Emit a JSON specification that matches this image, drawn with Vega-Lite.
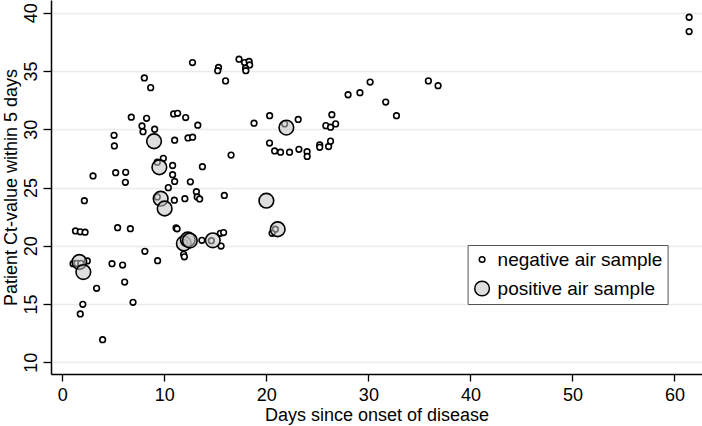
{
  "$schema": "https://vega.github.io/schema/vega-lite/v6.json",
  "width": 651,
  "height": 374,
  "autosize": {"type": "none"},
  "padding": {"left": 51, "top": 0, "right": 0, "bottom": 52},
  "background": "white",
  "config": {"view": {"stroke": null}, "font": "Liberation Sans"},
  "data": {"values": [
    {"days": 2.16, "ct": 23.87, "sample": "negative air sample"},
    {"days": 3.01, "ct": 25.99, "sample": "negative air sample"},
    {"days": 5.07, "ct": 29.48, "sample": "negative air sample"},
    {"days": 5.10, "ct": 28.57, "sample": "negative air sample"},
    {"days": 5.23, "ct": 26.27, "sample": "negative air sample"},
    {"days": 6.21, "ct": 26.31, "sample": "negative air sample"},
    {"days": 6.18, "ct": 25.45, "sample": "negative air sample"},
    {"days": 6.76, "ct": 31.03, "sample": "negative air sample"},
    {"days": 8.04, "ct": 34.40, "sample": "negative air sample"},
    {"days": 8.66, "ct": 33.57, "sample": "negative air sample"},
    {"days": 7.81, "ct": 30.28, "sample": "negative air sample"},
    {"days": 7.91, "ct": 29.79, "sample": "negative air sample"},
    {"days": 8.26, "ct": 30.94, "sample": "negative air sample"},
    {"days": 9.05, "ct": 30.00, "sample": "negative air sample"},
    {"days": 9.31, "ct": 27.17, "sample": "negative air sample"},
    {"days": 9.90, "ct": 27.51, "sample": "negative air sample"},
    {"days": 10.81, "ct": 26.89, "sample": "negative air sample"},
    {"days": 10.81, "ct": 26.10, "sample": "negative air sample"},
    {"days": 11.01, "ct": 25.52, "sample": "negative air sample"},
    {"days": 10.39, "ct": 24.99, "sample": "negative air sample"},
    {"days": 10.98, "ct": 23.91, "sample": "negative air sample"},
    {"days": 12.01, "ct": 24.04, "sample": "negative air sample"},
    {"days": 11.01, "ct": 29.06, "sample": "negative air sample"},
    {"days": 10.91, "ct": 31.31, "sample": "negative air sample"},
    {"days": 11.30, "ct": 31.37, "sample": "negative air sample"},
    {"days": 12.09, "ct": 31.00, "sample": "negative air sample"},
    {"days": 12.32, "ct": 29.25, "sample": "negative air sample"},
    {"days": 12.77, "ct": 29.32, "sample": "negative air sample"},
    {"days": 12.76, "ct": 35.72, "sample": "negative air sample"},
    {"days": 13.28, "ct": 30.35, "sample": "negative air sample"},
    {"days": 13.73, "ct": 26.79, "sample": "negative air sample"},
    {"days": 12.55, "ct": 25.49, "sample": "negative air sample"},
    {"days": 13.14, "ct": 24.64, "sample": "negative air sample"},
    {"days": 13.22, "ct": 24.19, "sample": "negative air sample"},
    {"days": 13.46, "ct": 24.02, "sample": "negative air sample"},
    {"days": 15.31, "ct": 35.30, "sample": "negative air sample"},
    {"days": 15.23, "ct": 35.02, "sample": "negative air sample"},
    {"days": 16.00, "ct": 34.15, "sample": "negative air sample"},
    {"days": 16.54, "ct": 27.78, "sample": "negative air sample"},
    {"days": 15.88, "ct": 24.32, "sample": "negative air sample"},
    {"days": 17.32, "ct": 36.01, "sample": "negative air sample"},
    {"days": 17.86, "ct": 35.72, "sample": "negative air sample"},
    {"days": 18.31, "ct": 35.82, "sample": "negative air sample"},
    {"days": 18.36, "ct": 35.52, "sample": "negative air sample"},
    {"days": 17.96, "ct": 35.24, "sample": "negative air sample"},
    {"days": 17.99, "ct": 35.02, "sample": "negative air sample"},
    {"days": 18.79, "ct": 30.52, "sample": "negative air sample"},
    {"days": 20.32, "ct": 31.16, "sample": "negative air sample"},
    {"days": 21.79, "ct": 30.46, "sample": "negative air sample"},
    {"days": 23.12, "ct": 30.84, "sample": "negative air sample"},
    {"days": 20.31, "ct": 28.82, "sample": "negative air sample"},
    {"days": 20.81, "ct": 28.14, "sample": "negative air sample"},
    {"days": 21.39, "ct": 28.03, "sample": "negative air sample"},
    {"days": 22.27, "ct": 28.03, "sample": "negative air sample"},
    {"days": 23.19, "ct": 28.28, "sample": "negative air sample"},
    {"days": 23.99, "ct": 28.07, "sample": "negative air sample"},
    {"days": 24.00, "ct": 27.67, "sample": "negative air sample"},
    {"days": 25.23, "ct": 28.65, "sample": "negative air sample"},
    {"days": 25.23, "ct": 28.45, "sample": "negative air sample"},
    {"days": 26.10, "ct": 28.52, "sample": "negative air sample"},
    {"days": 26.29, "ct": 28.98, "sample": "negative air sample"},
    {"days": 25.83, "ct": 30.31, "sample": "negative air sample"},
    {"days": 26.29, "ct": 30.18, "sample": "negative air sample"},
    {"days": 26.79, "ct": 30.46, "sample": "negative air sample"},
    {"days": 26.42, "ct": 31.25, "sample": "negative air sample"},
    {"days": 28.01, "ct": 32.96, "sample": "negative air sample"},
    {"days": 29.17, "ct": 33.14, "sample": "negative air sample"},
    {"days": 30.17, "ct": 34.05, "sample": "negative air sample"},
    {"days": 31.70, "ct": 32.33, "sample": "negative air sample"},
    {"days": 32.75, "ct": 31.16, "sample": "negative air sample"},
    {"days": 35.88, "ct": 34.15, "sample": "negative air sample"},
    {"days": 36.83, "ct": 33.74, "sample": "negative air sample"},
    {"days": 61.44, "ct": 39.61, "sample": "negative air sample"},
    {"days": 61.44, "ct": 38.38, "sample": "negative air sample"},
    {"days": 1.29, "ct": 21.27, "sample": "negative air sample"},
    {"days": 1.76, "ct": 21.20, "sample": "negative air sample"},
    {"days": 2.23, "ct": 21.17, "sample": "negative air sample"},
    {"days": 5.42, "ct": 21.55, "sample": "negative air sample"},
    {"days": 6.67, "ct": 21.47, "sample": "negative air sample"},
    {"days": 1.05, "ct": 18.46, "sample": "negative air sample"},
    {"days": 2.45, "ct": 18.70, "sample": "negative air sample"},
    {"days": 1.42, "ct": 18.50, "sample": "negative air sample"},
    {"days": 1.81, "ct": 18.50, "sample": "negative air sample"},
    {"days": 4.87, "ct": 18.46, "sample": "negative air sample"},
    {"days": 5.91, "ct": 18.35, "sample": "negative air sample"},
    {"days": 8.09, "ct": 19.53, "sample": "negative air sample"},
    {"days": 9.34, "ct": 18.72, "sample": "negative air sample"},
    {"days": 6.11, "ct": 16.89, "sample": "negative air sample"},
    {"days": 3.36, "ct": 16.35, "sample": "negative air sample"},
    {"days": 2.01, "ct": 14.98, "sample": "negative air sample"},
    {"days": 1.76, "ct": 14.15, "sample": "negative air sample"},
    {"days": 6.93, "ct": 15.15, "sample": "negative air sample"},
    {"days": 3.95, "ct": 11.94, "sample": "negative air sample"},
    {"days": 11.15, "ct": 21.53, "sample": "negative air sample"},
    {"days": 11.25, "ct": 21.46, "sample": "negative air sample"},
    {"days": 11.89, "ct": 19.27, "sample": "negative air sample"},
    {"days": 11.96, "ct": 19.06, "sample": "negative air sample"},
    {"days": 13.68, "ct": 20.47, "sample": "negative air sample"},
    {"days": 14.61, "ct": 20.44, "sample": "negative air sample"},
    {"days": 15.49, "ct": 21.07, "sample": "negative air sample"},
    {"days": 15.81, "ct": 21.14, "sample": "negative air sample"},
    {"days": 15.56, "ct": 19.98, "sample": "negative air sample"},
    {"days": 20.88, "ct": 21.42, "sample": "negative air sample"},
    {"days": 20.56, "ct": 21.07, "sample": "negative air sample"},
    {"days": 9.31, "ct": 24.19, "sample": "negative air sample"},
    {"days": 11.99, "ct": 20.27, "sample": "negative air sample"},
    {"days": 8.99, "ct": 28.97, "sample": "positive air sample"},
    {"days": 9.51, "ct": 26.74, "sample": "positive air sample"},
    {"days": 9.64, "ct": 24.04, "sample": "positive air sample"},
    {"days": 10.03, "ct": 23.20, "sample": "positive air sample"},
    {"days": 1.67, "ct": 18.61, "sample": "positive air sample"},
    {"days": 2.06, "ct": 17.75, "sample": "positive air sample"},
    {"days": 11.91, "ct": 20.20, "sample": "positive air sample"},
    {"days": 12.30, "ct": 20.54, "sample": "positive air sample"},
    {"days": 12.50, "ct": 20.45, "sample": "positive air sample"},
    {"days": 14.75, "ct": 20.47, "sample": "positive air sample"},
    {"days": 20.00, "ct": 23.87, "sample": "positive air sample"},
    {"days": 21.11, "ct": 21.42, "sample": "positive air sample"},
    {"days": 21.96, "ct": 30.14, "sample": "positive air sample"}
  ]},
  "mark": {"type": "point", "filled": true, "shape": "circle", "stroke": "#000", "strokeWidth": 1.6, "opacity": 1},
  "encoding": {
    "x": {
      "field": "days", "type": "quantitative",
      "scale": {"domain": [-1.11, 62.7], "nice": false, "zero": false},
      "axis": {
        "values": [0, 10, 20, 30, 40, 50, 60],
        "title": "Days since onset of disease",
        "titleFont": "Liberation Sans", "titleFontSize": 18, "titleFontWeight": "normal", "titleColor": "#000", "titlePadding": 2,
        "labelFont": "Liberation Sans", "labelFontSize": 18, "labelColor": "#000", "labelPadding": 5,
        "tickSize": 7, "tickColor": "#000", "tickWidth": 1.3,
        "domainColor": "#000", "domainWidth": 1.5, "grid": false
      }
    },
    "y": {
      "field": "ct", "type": "quantitative",
      "scale": {"domain": [9.0, 41.09], "nice": false, "zero": false},
      "axis": {
        "values": [10, 15, 20, 25, 30, 35, 40],
        "title": "Patient Ct-value within 5 days",
        "titleFont": "Liberation Sans", "titleFontSize": 18, "titleFontWeight": "normal", "titleColor": "#000", "titlePadding": 2,
        "labelFont": "Liberation Sans", "labelFontSize": 18, "labelColor": "#000", "labelPadding": 7,
        "labelAngle": -90, "labelAlign": "center", "labelBaseline": "alphabetic",
        "tickSize": 8, "tickColor": "#000", "tickWidth": 1.3,
        "domainColor": "#000", "domainWidth": 1.5,
        "grid": true, "gridColor": "#ebebeb", "gridWidth": 1.5
      }
    },
    "fill": {
      "field": "sample", "type": "ordinal",
      "scale": {"domain": ["negative air sample", "positive air sample"], "range": ["#ffffff", "rgba(195,195,195,0.55)"]},
      "legend": {
        "orient": "none", "legendX": 416.6, "legendY": 245, "title": null,
        "strokeColor": "#555", "fillColor": "white", "padding": 5,
        "labelFont": "Liberation Sans", "labelFontSize": 19, "labelColor": "#000", "labelOffset": 6, "labelLimit": 400,
        "rowPadding": 8, "symbolType": "circle",
        "encode": {"symbols": {"update": {"stroke": {"value": "#000"}, "strokeWidth": {"value": 1.6}, "opacity": {"value": 1}}}}
      }
    },
    "size": {
      "field": "sample", "type": "ordinal",
      "scale": {"domain": ["negative air sample", "positive air sample"], "range": [32, 215]},
      "legend": {
        "orient": "none", "legendX": 416.6, "legendY": 245, "title": null,
        "strokeColor": "#555", "fillColor": "white", "padding": 5,
        "labelFont": "Liberation Sans", "labelFontSize": 19, "labelColor": "#000", "labelOffset": 6, "labelLimit": 400,
        "rowPadding": 8, "symbolType": "circle",
        "encode": {"symbols": {"update": {"stroke": {"value": "#000"}, "strokeWidth": {"value": 1.6}, "opacity": {"value": 1}}}}
      }
    }
  }
}
